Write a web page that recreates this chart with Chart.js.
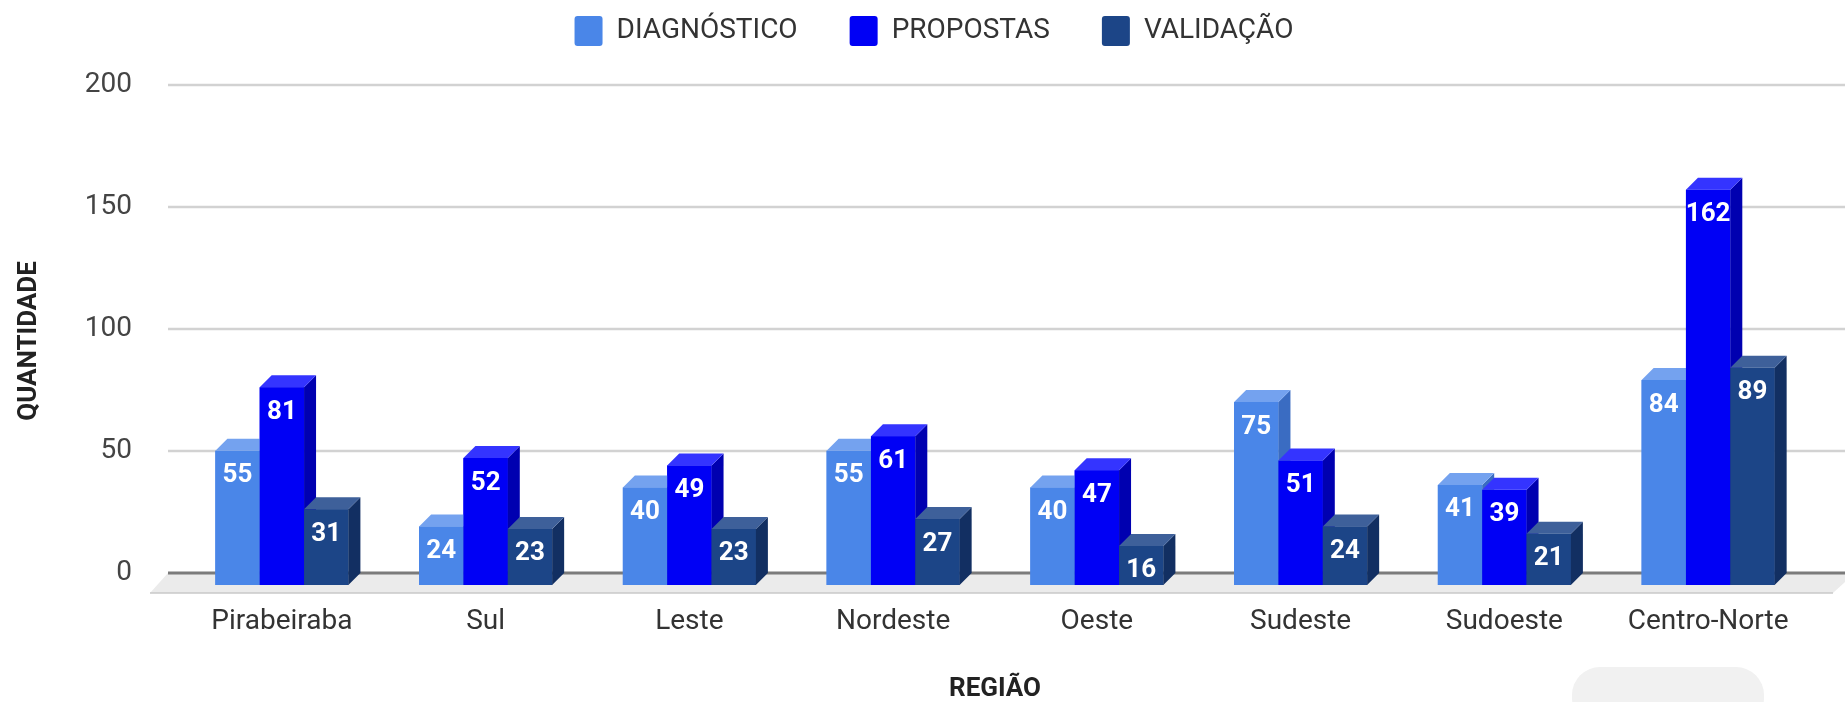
<!DOCTYPE html>
<html lang="pt-BR">
<head>
<meta charset="utf-8">
<title>Contribuições por região</title>
<script src="https://cdn.jsdelivr.net/npm/chart.js@4.4.1/dist/chart.umd.min.js"></script>
<style>
  html, body { margin: 0; padding: 0; background: #fff; }
  .ChartBox { position: relative; width: 1845px; height: 702px; overflow: hidden; }
  .Badge { position: absolute; left: 1572px; top: 667px; width: 192px; height: 60px; border-radius: 28px; background: #f1f1f1; }
</style>
</head>
<body>
<div class="ChartBox">
  <canvas id="RegionChart"></canvas>
  <div class="Badge"></div>
</div>
<script>
const regions = ["Pirabeiraba", "Sul", "Leste", "Nordeste", "Oeste", "Sudeste", "Sudoeste", "Centro-Norte"];
const diagnostico = [55, 24, 40, 55, 40, 75, 41, 84];
const propostas = [81, 52, 49, 61, 47, 51, 39, 162];
const validacao = [31, 23, 23, 27, 16, 24, 21, 89];
const yTicks = [0, 50, 100, 150, 200];

// front / top / side shades for each series
const shades = [
  { front: "#4a86e8", top: "#74a2ef", side: "#3a6cc2" },
  { front: "#0000f5", top: "#3434ff", side: "#0000b0" },
  { front: "#1c4587", top: "#3e609a", side: "#122f62" },
];

const DEPTH = 12;

// legend sits higher than Chart.js would put it, so pin its height
// and nudge it a bit to the right like in the original sheet
const legendSpacer = {
  id: "legendSpacer",
  beforeUpdate(chart) {
    const legend = chart.legend;
    if (!legend || legend._pinned) return;
    const fit = legend.fit;
    legend.fit = function () {
      fit.call(this);
      this.height = 133;
    };
    legend._pinned = true;
  },
  afterLayout(chart) {
    const legend = chart.legend;
    if (!legend) return;
    legend.left += 24;
    legend.right += 24;
  },
};

// fake 3D: back wall gridlines, floor, bar sides/tops and value labels
const depth3d = {
  id: "depth3d",
  beforeDatasetsDraw(chart) {
    const { ctx, chartArea, scales: { y } } = chart;
    const zeroY = y.getPixelForValue(0) - DEPTH;

    ctx.save();
    ctx.fillStyle = "#ebebeb";
    ctx.beginPath();
    ctx.moveTo(chartArea.left - DEPTH, zeroY);
    ctx.lineTo(chart.width + 10, zeroY);
    ctx.lineTo(chartArea.right + 23, zeroY + 20);
    ctx.lineTo(chartArea.left - 30, zeroY + 20);
    ctx.closePath();
    ctx.fill();

    ctx.strokeStyle = "#c9c9c9";
    ctx.lineWidth = 1.5;
    ctx.beginPath();
    ctx.moveTo(chartArea.left - 30, zeroY + 20);
    ctx.lineTo(chartArea.right + 23, zeroY + 20);
    ctx.stroke();

    y.ticks.forEach((tick) => {
      const py = y.getPixelForValue(tick.value) - DEPTH;
      ctx.strokeStyle = tick.value === 0 ? "#7b7b7b" : "#d2d2d2";
      ctx.lineWidth = tick.value === 0 ? 3 : 2.5;
      ctx.beginPath();
      ctx.moveTo(chartArea.left - DEPTH, py);
      ctx.lineTo(chart.width, py);
      ctx.stroke();
    });
    ctx.restore();
  },

  afterDatasetsDraw(chart) {
    const { ctx } = chart;
    ctx.save();

    chart.data.datasets.forEach((ds, i) => {
      const tone = shades[i];
      chart.getDatasetMeta(i).data.forEach((bar) => {
        const { x, y, width, base } = bar.getProps(["x", "y", "width", "base"], true);
        const left = x - width / 2;
        const right = x + width / 2;

        ctx.fillStyle = tone.front;
        ctx.fillRect(left, y, width, base - y);

        ctx.fillStyle = tone.side;
        ctx.beginPath();
        ctx.moveTo(right, y);
        ctx.lineTo(right + DEPTH, y - DEPTH);
        ctx.lineTo(right + DEPTH, base - DEPTH);
        ctx.lineTo(right, base);
        ctx.closePath();
        ctx.fill();

        ctx.fillStyle = tone.top;
        ctx.beginPath();
        ctx.moveTo(left, y);
        ctx.lineTo(left + DEPTH, y - DEPTH);
        ctx.lineTo(right + DEPTH, y - DEPTH);
        ctx.lineTo(right, y);
        ctx.closePath();
        ctx.fill();
      });
    });

    ctx.fillStyle = "#ffffff";
    ctx.font = "bold 26px Roboto";
    ctx.textAlign = "center";
    ctx.textBaseline = "middle";
    chart.data.datasets.forEach((ds, i) => {
      chart.getDatasetMeta(i).data.forEach((bar, j) => {
        const { x, y } = bar.getProps(["x", "y"], true);
        ctx.fillText(String(ds.data[j]), x, y + 25);
      });
    });

    ctx.restore();
  },
};

Chart.defaults.font.family = "Roboto, 'Noto Sans', sans-serif";

const canvas = document.querySelector("#RegionChart");

new Chart(canvas, {
  type: "bar",
  data: {
    labels: regions,
    datasets: [
      { label: "DIAGNÓSTICO", data: diagnostico, backgroundColor: shades[0].front, borderWidth: 0 },
      { label: "PROPOSTAS", data: propostas, backgroundColor: shades[1].front, borderWidth: 0 },
      { label: "VALIDAÇÃO", data: validacao, backgroundColor: shades[2].front, borderWidth: 0 },
    ],
  },
  options: {
    responsive: true,
    maintainAspectRatio: false,
    animation: false,
    layout: {
      padding: { top: -36, left: 10, right: 35, bottom: 0 },
    },
    datasets: {
      bar: { categoryPercentage: 0.653, barPercentage: 1 },
    },
    plugins: {
      legend: {
        position: "top",
        labels: {
          boxWidth: 28,
          boxHeight: 30,
          padding: 52,
          color: "#333",
          font: { size: 28 },
          useBorderRadius: true,
          borderRadius: 3,
        },
      },
      tooltip: { enabled: false },
    },
    scales: {
      x: {
        grid: { display: false, drawTicks: false },
        border: { display: false },
        ticks: {
          color: "#333",
          font: { size: 28 },
          padding: 20,
          maxRotation: 0,
          autoSkip: false,
        },
        title: {
          display: true,
          text: "REGIÃO",
          color: "#222",
          font: { size: 26, weight: "bold", lineHeight: 1 },
          padding: 0,
        },
        afterFit(scale) {
          scale.height = 117;
        },
      },
      y: {
        min: 0,
        max: 200,
        grid: { display: false, drawTicks: false },
        border: { display: false },
        ticks: {
          color: "#444",
          font: { size: 28 },
          padding: 48,
          labelOffset: -DEPTH,
        },
        title: {
          display: true,
          text: "QUANTIDADE",
          color: "#222",
          font: { size: 26, weight: "bold", lineHeight: 1 },
          padding: { top: 6, bottom: 0 },
        },
        afterBuildTicks(scale) {
          scale.ticks = yTicks.map((value) => ({ value }));
        },
        afterFit(scale) {
          scale.width = 170;
        },
      },
    },
  },
  plugins: [legendSpacer, depth3d],
});
</script>
</body>
</html>
